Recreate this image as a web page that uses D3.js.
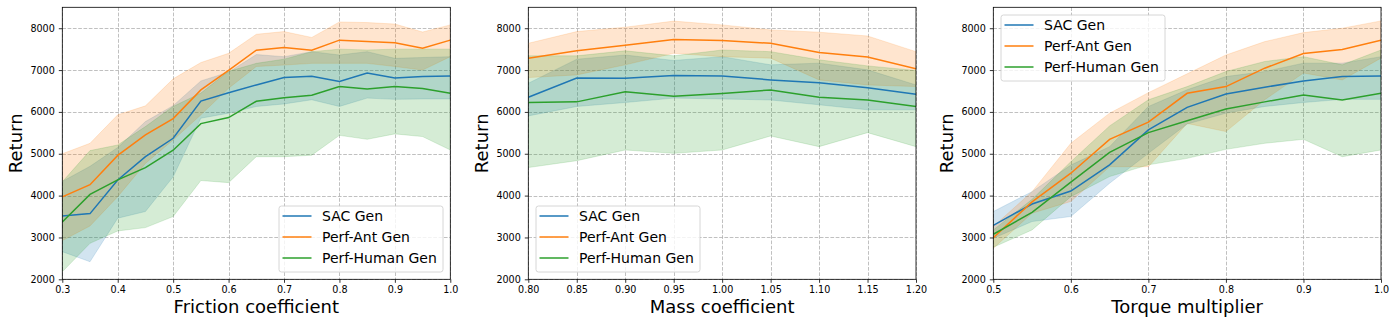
<!DOCTYPE html>
<html>
<head>
<meta charset="utf-8">
<script src="https://cdn.jsdelivr.net/npm/d3@7"></script>
<style>
  body { margin: 0; background: #fff; }
  svg { display: block; font-family: "DejaVu Sans", sans-serif; }
</style>
</head>
<body>
<div id="chart-container"></div>
<script>
// series names + colours (matplotlib tab10)
var seriesNames = ["SAC Gen", "Perf-Ant Gen", "Perf-Human Gen"];
var seriesColors = ["#1f77b4", "#ff7f0e", "#2ca02c"];
var yTicks = [2000, 3000, 4000, 5000, 6000, 7000, 8000];

// --- friction coefficient panel
var frictionX = [0.3, 0.35, 0.4, 0.45, 0.5, 0.55, 0.6, 0.65, 0.7, 0.75, 0.8, 0.85, 0.9, 0.95, 1.0];
var frictionSac    = [3510, 3570, 4375, 4930, 5370, 6260, 6460, 6645, 6820, 6850, 6730, 6930, 6810, 6845, 6860];
var frictionSacLo  = [2660, 2420, 3460, 3620, 4450, 5850, 5970, 6130, 6190, 6290, 6130, 6330, 6300, 6310, 6310];
var frictionSacHi  = [4340, 4700, 5150, 5770, 6150, 6740, 6950, 7370, 7320, 7440, 7360, 7440, 7280, 7300, 7320];
var frictionAnt    = [3970, 4260, 4960, 5450, 5840, 6525, 6990, 7475, 7540, 7475, 7715, 7680, 7650, 7520, 7715];
var frictionAntLo  = [2925, 3275, 3975, 4770, 5330, 5930, 6565, 7085, 7120, 7160, 7160, 7160, 7085, 7000, 7320];
var frictionAntHi  = [5000, 5250, 5930, 6145, 6790, 7180, 7400, 7855, 7920, 7780, 8150, 8135, 8100, 7910, 8080];
var frictionHum    = [3370, 4030, 4375, 4670, 5085, 5720, 5865, 6255, 6340, 6400, 6605, 6550, 6605, 6560, 6445];
var frictionHumLo  = [2180, 2860, 3155, 3235, 3500, 4360, 4310, 4930, 4930, 4965, 5440, 5345, 5475, 5410, 5090];
var frictionHumHi  = [4330, 5075, 5210, 5650, 6130, 6450, 6970, 7160, 7260, 7440, 7500, 7480, 7500, 7500, 7500];
var frictionTicks = [0.3, 0.4, 0.5, 0.6, 0.7, 0.8, 0.9, 1.0];

// --- mass coefficient panel
var massX = [0.80, 0.85, 0.90, 0.95, 1.00, 1.05, 1.10, 1.15, 1.20];
var massSac    = [6350, 6810, 6805, 6870, 6860, 6765, 6695, 6575, 6420];
var massSacLo  = [5905, 6130, 6225, 6330, 6310, 6285, 6170, 6050, 6050];
var massSacHi  = [6685, 7260, 7360, 7230, 7320, 7125, 7165, 7005, 6645];
var massAnt    = [7285, 7460, 7595, 7730, 7705, 7640, 7420, 7310, 7030];
var massAntLo  = [6820, 6885, 7125, 7400, 7320, 7285, 6765, 6645, 6605];
var massAntHi  = [7640, 7920, 8025, 8170, 8080, 7960, 7905, 7815, 7440];
var massHum    = [6225, 6240, 6480, 6375, 6440, 6525, 6350, 6285, 6130];
var massHumLo  = [4670, 4835, 5090, 5010, 5090, 5425, 5170, 5505, 5170];
var massHumHi  = [7340, 7340, 7460, 7340, 7480, 7440, 7245, 7100, 6990];
var massTicks = [0.80, 0.85, 0.90, 0.95, 1.00, 1.05, 1.10, 1.15, 1.20];

// --- torque multiplier panel
var torqueX = [0.5, 0.55, 0.6, 0.65, 0.7, 0.75, 0.8, 0.85, 0.9, 0.95, 1.0];
var torqueSac    = [3290, 3800, 4110, 4735, 5570, 6110, 6430, 6590, 6740, 6845, 6860];
var torqueSacLo  = [2980, 3380, 3500, 4295, 5010, 5710, 5970, 6130, 6225, 6300, 6300];
var torqueSacHi  = [3620, 4095, 4730, 5170, 6130, 6530, 6845, 6965, 7165, 7165, 7320];
var torqueAnt    = [2995, 3850, 4535, 5345, 5755, 6445, 6605, 7045, 7395, 7490, 7715];
var torqueAntLo  = [2740, 3580, 3860, 4690, 4690, 5725, 5530, 6290, 6930, 6765, 7285];
var torqueAntHi  = [3260, 4095, 5250, 5970, 6460, 6910, 7360, 7680, 7895, 8000, 8175];
var torqueHum    = [3075, 3600, 4320, 5035, 5505, 5790, 6070, 6240, 6405, 6285, 6445];
var torqueHumLo  = [2765, 3180, 3975, 4455, 4735, 4890, 5105, 5250, 5345, 4930, 5090];
var torqueHumHi  = [3180, 3910, 4810, 5665, 6290, 6605, 6965, 7205, 7320, 7125, 7480];
var torqueTicks = [0.5, 0.6, 0.7, 0.8, 0.9, 1.0];

var W = 1396, H = 325;
var svg = d3.select("#chart-container").append("svg")
  .attr("width", W).attr("height", H);

function drawPanel(opts) {
  var x = d3.scaleLinear().domain(opts.xDomain).range([opts.left, opts.right]);
  var y = d3.scaleLinear().domain([2000, 8500]).range([279.3, 7.3]);
  var g = svg.append("g");

  // grid
  g.selectAll(".gx").data(opts.ticks).enter().append("line")
    .attr("x1", function (d) { return Math.round(x(d)) + 0.5; })
    .attr("x2", function (d) { return Math.round(x(d)) + 0.5; })
    .attr("y1", y(8500)).attr("y2", y(2000))
    .style("stroke", "#b0b0b0").style("stroke-width", 0.8).style("stroke-dasharray", "3.7,1.6");
  g.selectAll(".gy").data(yTicks).enter().append("line")
    .attr("x1", opts.left).attr("x2", opts.right)
    .attr("y1", function (d) { return Math.round(y(d)) + 0.5; })
    .attr("y2", function (d) { return Math.round(y(d)) + 0.5; })
    .style("stroke", "#b0b0b0").style("stroke-width", 0.8).style("stroke-dasharray", "3.7,1.6");

  var clip = "clip" + opts.id;
  svg.append("clipPath").attr("id", clip).append("rect")
    .attr("x", opts.left).attr("y", y(8500))
    .attr("width", opts.right - opts.left).attr("height", y(2000) - y(8500));

  var plot = g.append("g").attr("clip-path", "url(#" + clip + ")");

  // bands
  opts.series.forEach(function (s, k) {
    var pts = opts.xs.map(function (v, i) { return { x: v, lo: s.lo[i], hi: s.hi[i] }; });
    var area = d3.area()
      .x(function (d) { return x(d.x); })
      .y0(function (d) { return y(d.lo); })
      .y1(function (d) { return y(d.hi); });
    plot.append("path").datum(pts).attr("d", area)
      .style("fill", seriesColors[k]).style("fill-opacity", 0.2)
      .style("stroke", seriesColors[k]).style("stroke-opacity", 0.2).style("stroke-width", 0.8);
  });

  // mean lines
  opts.series.forEach(function (s, k) {
    var line = d3.line()
      .x(function (d, i) { return x(opts.xs[i]); })
      .y(function (d) { return y(d); });
    plot.append("path").datum(s.mean).attr("d", line)
      .style("fill", "none").style("stroke", seriesColors[k]).style("stroke-width", 1.5);
  });

  // axes
  var xAxis = d3.axisBottom(x).tickValues(opts.ticks).tickSize(3.5).tickPadding(3)
    .tickFormat(d3.format(opts.fmt));
  var gx = g.append("g").attr("transform", "translate(0," + y(2000) + ")").call(xAxis);
  var yAxis = d3.axisLeft(y).tickValues(yTicks).tickSize(3.5).tickPadding(4)
    .tickFormat(d3.format("d"));
  var gy = g.append("g").attr("transform", "translate(" + opts.left + ",0)").call(yAxis);
  [gx, gy].forEach(function (a) {
    a.select(".domain").remove();
    a.selectAll("line").style("stroke", "#000").style("stroke-width", 0.8);
    a.selectAll("text").style("font-size", "9.6px").style("fill", "#000")
      .style("font-family", "'DejaVu Sans', sans-serif");
  });

  g.append("rect")
    .attr("x", opts.left).attr("y", y(8500))
    .attr("width", opts.right - opts.left).attr("height", y(2000) - y(8500))
    .style("fill", "none").style("stroke", "#000").style("stroke-width", 0.8);

  // labels
  g.append("text")
    .attr("x", (opts.left + opts.right) / 2).attr("y", 313)
    .style("text-anchor", "middle").style("font-size", "18px")
    .text(opts.xLabel);
  g.append("text")
    .attr("transform", "translate(" + (opts.left - 40.5) + "," + ((y(2000) + y(8500)) / 2) + ") rotate(-90)")
    .style("text-anchor", "middle").style("font-size", "18px")
    .text("Return");

  // legend
  var lg = g.append("g").attr("transform", "translate(" + opts.legend[0] + "," + opts.legend[1] + ")");
  lg.append("rect").attr("x", 0.5).attr("y", 0.5).attr("width", 164).attr("height", 66)
    .attr("rx", 2.5).style("fill", "#fff").style("fill-opacity", 0.8)
    .style("stroke", "#cccccc").style("stroke-width", 0.8);
  seriesNames.forEach(function (name, k) {
    var ry = 10.5 + k * 21;
    lg.append("line").attr("x1", 4).attr("x2", 33).attr("y1", ry).attr("y2", ry)
      .style("stroke", seriesColors[k]).style("stroke-width", 1.5);
    lg.append("text").attr("x", 43.5).attr("y", ry + 5)
      .style("font-size", "14px").text(name);
  });
}

drawPanel({
  id: 1, left: 62.3, right: 450.3, xDomain: [0.3, 1.0], xs: frictionX, ticks: frictionTicks, fmt: ".1f",
  xLabel: "Friction coefficient", legend: [278.5, 205.5],
  series: [
    { mean: frictionSac, lo: frictionSacLo, hi: frictionSacHi },
    { mean: frictionAnt, lo: frictionAntLo, hi: frictionAntHi },
    { mean: frictionHum, lo: frictionHumLo, hi: frictionHumHi }
  ]
});
drawPanel({
  id: 2, left: 528.3, right: 916, xDomain: [0.8, 1.2], xs: massX, ticks: massTicks, fmt: ".2f",
  xLabel: "Mass coefficient", legend: [535.5, 205.5],
  series: [
    { mean: massSac, lo: massSacLo, hi: massSacHi },
    { mean: massAnt, lo: massAntLo, hi: massAntHi },
    { mean: massHum, lo: massHumLo, hi: massHumHi }
  ]
});
drawPanel({
  id: 3, left: 993.3, right: 1381, xDomain: [0.5, 1.0], xs: torqueX, ticks: torqueTicks, fmt: ".1f",
  xLabel: "Torque multiplier", legend: [1000.5, 14.5],
  series: [
    { mean: torqueSac, lo: torqueSacLo, hi: torqueSacHi },
    { mean: torqueAnt, lo: torqueAntLo, hi: torqueAntHi },
    { mean: torqueHum, lo: torqueHumLo, hi: torqueHumHi }
  ]
});
</script>
</body>
</html>
